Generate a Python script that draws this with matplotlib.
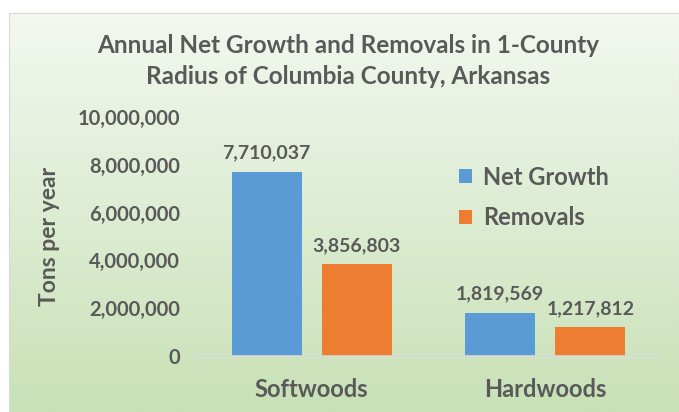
import matplotlib.pyplot as plt
import numpy as np
from matplotlib.colors import LinearSegmentedColormap

categories = ['Softwoods', 'Hardwoods']
net_growth = [7710037, 1819569]
removals = [3856803, 1217812]
yticks = [0, 2000000, 4000000, 6000000, 8000000, 10000000]

plt.rcParams['font.family'] = ['Lato', 'DejaVu Sans']
txt = '#595959'

fig = plt.figure(figsize=(6.79, 4.12), dpi=100)
fig.patch.set_facecolor('white')

# gradient background of the chart area
bg = fig.add_axes([9/679, 0, 1 - 9/679, 1 - 13/412])
cmap = LinearSegmentedColormap.from_list('g', ['#f3f8f0', '#c8e1b6'])
grad = np.linspace(0, 1, 256).reshape(-1, 1)
bg.imshow(grad, aspect='auto', cmap=cmap, extent=[0, 1, 0, 1], origin='upper')
bg.set_xticks([])
bg.set_yticks([])
for s in bg.spines.values():
    s.set_color('#d9d9d9')
bg.set_zorder(0)

ax = fig.add_axes([195/679, 1 - 356/412, (662 - 195)/679, (356 - 117)/412])
ax.set_zorder(1)
ax.patch.set_alpha(0)

x = np.arange(len(categories))
w = 0.30
off = 0.193
b1 = ax.bar(x - off, net_growth, w, color='#5b9bd5', label='Net Growth')
b2 = ax.bar(x + off, removals, w, color='#ed7d31', label='Removals')

for bars, vals in ((b1, net_growth), (b2, removals)):
    for b, v in zip(bars, vals):
        ax.text(b.get_x() + b.get_width()/2, v + 420000, f'{v:,}', ha='center', va='bottom',
                fontsize=14, fontweight='bold', color=txt)

ax.set_xlim(-0.5, 1.5)
ax.set_ylim(0, 10000000)
ax.set_yticks(yticks)
ax.set_yticklabels([f'{t:,}' for t in yticks], fontsize=14.5, fontweight='bold', color=txt)
ax.set_xticks(x)
ax.set_xticklabels(categories, fontsize=17, fontweight='bold', color=txt)
ax.tick_params(axis='both', length=0)
ax.tick_params(axis='x', pad=16)
ax.tick_params(axis='y', pad=11)
for k in ['top', 'right', 'left']:
    ax.spines[k].set_visible(False)
ax.spines['bottom'].set_color('#d9d9d9')
ax.spines['bottom'].set_linewidth(1.2)

ax.set_ylabel('Tons per year', fontsize=16.5, fontweight='bold', color=txt)
ax.yaxis.set_label_coords(-0.29, 0.5)

leg = ax.legend(loc='upper left', bbox_to_anchor=(0.52, 0.885), frameon=False,
                prop={'size': 17, 'weight': 'bold'}, handlelength=0.55, handleheight=0.55,
                labelspacing=0.75, handletextpad=0.45)
for t in leg.get_texts():
    t.set_color(txt)

fig.text(0.512, 0.852, 'Annual Net Growth and Removals in 1-County\nRadius of Columbia County, Arkansas',
         ha='center', va='center', fontsize=17.5, fontweight='bold', color=txt, linespacing=1.43)

fig.savefig('out.png', dpi=100)
